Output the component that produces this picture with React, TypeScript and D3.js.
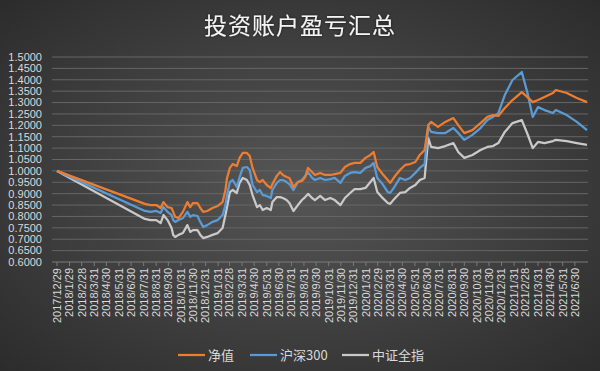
import React from "react";
import * as d3 from "d3";

// 净值 / 沪深300 / 中证全指
const dates = [
  "2017-12-29", "2018-08-03", "2018-08-17", "2018-08-31", "2018-09-11", "2018-09-18", "2018-09-28",
  "2018-10-08", "2018-10-12", "2018-10-17", "2018-10-25", "2018-11-05", "2018-11-16", "2018-11-23",
  "2018-11-30", "2018-12-11", "2018-12-18", "2018-12-25", "2019-01-04", "2019-01-17", "2019-01-30",
  "2019-02-11", "2019-02-18", "2019-02-22", "2019-03-01", "2019-03-08", "2019-03-18", "2019-03-25",
  "2019-04-02", "2019-04-12", "2019-04-19", "2019-04-26", "2019-05-07", "2019-05-14", "2019-05-21",
  "2019-05-31", "2019-06-10", "2019-06-14", "2019-06-25", "2019-07-03", "2019-07-10", "2019-07-19",
  "2019-07-26", "2019-08-05", "2019-08-16", "2019-08-26", "2019-09-03", "2019-09-10", "2019-09-20",
  "2019-09-27", "2019-10-10", "2019-10-22", "2019-11-04", "2019-11-15", "2019-11-29", "2019-12-10",
  "2019-12-23", "2020-01-03", "2020-01-17", "2020-01-30", "2020-02-11", "2020-02-19", "2020-02-28",
  "2020-03-10", "2020-03-25", "2020-03-31", "2020-04-10", "2020-04-24", "2020-05-07", "2020-05-19",
  "2020-06-01", "2020-06-12", "2020-06-24", "2020-07-03", "2020-07-10", "2020-07-27", "2020-08-14",
  "2020-09-03", "2020-09-15", "2020-09-30", "2020-10-20", "2020-11-09", "2020-11-26", "2020-12-10",
  "2020-12-23", "2021-01-08", "2021-01-27", "2021-02-19", "2021-03-05", "2021-03-18", "2021-03-31",
  "2021-04-16", "2021-05-07", "2021-05-14", "2021-06-10", "2021-07-05", "2021-07-30",
];

const nav = [
  1.000, 0.855, 0.850, 0.850, 0.837, 0.863, 0.841,
  0.837, 0.820, 0.798, 0.793, 0.820, 0.863, 0.841,
  0.859, 0.859, 0.837, 0.820, 0.824, 0.837, 0.846,
  0.863, 0.916, 0.969, 1.013, 1.030, 1.021, 1.057,
  1.079, 1.079, 1.065, 1.013, 0.960, 0.951, 0.960,
  0.938, 0.925, 0.942, 0.978, 0.995, 0.982, 0.973,
  0.969, 0.929, 0.951, 0.956, 0.973, 1.013, 0.995,
  0.982, 0.991, 0.982, 0.982, 0.986, 0.991, 1.017,
  1.030, 1.035, 1.035, 1.057, 1.070, 1.083, 1.017,
  0.991, 0.960, 0.947, 0.973, 1.004, 1.026, 1.030,
  1.039, 1.070, 1.092, 1.201, 1.215, 1.193, 1.215,
  1.232, 1.201, 1.166, 1.179, 1.210, 1.237, 1.245,
  1.241, 1.276, 1.311, 1.346, 1.324, 1.302, 1.311,
  1.324, 1.342, 1.355, 1.342, 1.320, 1.302,
];

const hs300 = [
  1.000, 0.824, 0.820, 0.824, 0.815, 0.841, 0.820,
  0.806, 0.784, 0.776, 0.784, 0.793, 0.820, 0.798,
  0.806, 0.802, 0.776, 0.754, 0.762, 0.776, 0.784,
  0.806, 0.850, 0.894, 0.951, 0.960, 0.929, 0.973,
  1.013, 1.017, 1.004, 0.938, 0.907, 0.916, 0.894,
  0.890, 0.881, 0.916, 0.947, 0.960, 0.960, 0.951,
  0.942, 0.916, 0.951, 0.960, 0.978, 0.995, 0.969,
  0.960, 0.969, 0.960, 0.964, 0.969, 0.947, 0.978,
  0.991, 0.995, 0.991, 1.013, 1.021, 1.035, 0.969,
  0.947, 0.907, 0.903, 0.929, 0.969, 0.960, 0.969,
  0.991, 1.013, 1.030, 1.193, 1.171, 1.166, 1.166,
  1.188, 1.166, 1.136, 1.158, 1.188, 1.223, 1.237,
  1.254, 1.333, 1.399, 1.434, 1.342, 1.237, 1.280,
  1.267, 1.254, 1.267, 1.245, 1.215, 1.179,
];

const zzqz = [
  1.000, 0.789, 0.784, 0.784, 0.771, 0.806, 0.784,
  0.749, 0.719, 0.710, 0.719, 0.727, 0.762, 0.732,
  0.740, 0.740, 0.719, 0.705, 0.710, 0.719, 0.727,
  0.749, 0.806, 0.841, 0.907, 0.916, 0.903, 0.947,
  0.969, 0.960, 0.938, 0.894, 0.841, 0.850, 0.828,
  0.837, 0.828, 0.863, 0.885, 0.885, 0.881, 0.872,
  0.859, 0.824, 0.850, 0.872, 0.885, 0.899, 0.881,
  0.872, 0.890, 0.872, 0.881, 0.872, 0.850, 0.881,
  0.903, 0.920, 0.920, 0.925, 0.951, 0.969, 0.907,
  0.885, 0.859, 0.855, 0.877, 0.903, 0.907, 0.925,
  0.938, 0.960, 0.969, 1.144, 1.105, 1.100, 1.109,
  1.122, 1.083, 1.057, 1.070, 1.092, 1.105, 1.109,
  1.122, 1.171, 1.210, 1.223, 1.162, 1.100, 1.127,
  1.122, 1.131, 1.136, 1.131, 1.122, 1.114,
];

const tickLabels = [
  "2017/12/29", "2018/1/29", "2018/2/28", "2018/3/31", "2018/4/30", "2018/5/31", "2018/6/30",
  "2018/7/31", "2018/8/31", "2018/9/30", "2018/10/31", "2018/11/30", "2018/12/31", "2019/1/31",
  "2019/2/28", "2019/3/31", "2019/4/30", "2019/5/31", "2019/6/30", "2019/7/31", "2019/8/31",
  "2019/9/30", "2019/10/31", "2019/11/30", "2019/12/31", "2020/1/31", "2020/2/29", "2020/3/31",
  "2020/4/30", "2020/5/31", "2020/6/30", "2020/7/31", "2020/8/31", "2020/9/30", "2020/10/31",
  "2020/11/30", "2020/12/31", "2021/1/31", "2021/2/28", "2021/3/31", "2021/4/30", "2021/5/31",
  "2021/6/30",
];

const yTicks = d3.range(0.6, 1.5001, 0.05);

const series = [
  { name: "净值", color: "#ED7D31", values: nav },
  { name: "沪深300", color: "#5B9BD5", values: hs300 },
  { name: "中证全指", color: "#C9C9C9", values: zzqz },
];

const W = 600, H = 371;
const margin = { top: 57, right: 13, bottom: 109, left: 57 };

export default function App() {
  const parseISO = d3.timeParse("%Y-%m-%d");
  const parseTick = d3.timeParse("%Y/%m/%d");
  const xDates = dates.map((d) => parseISO(d) as Date);

  const x = d3.scaleTime()
    .domain(d3.extent(xDates) as [Date, Date])
    .range([margin.left, W - margin.right]);
  const y = d3.scaleLinear()
    .domain([0.6, 1.5])
    .range([H - margin.bottom, margin.top]);

  const line = d3.line<number>()
    .x((_, i) => x(xDates[i]))
    .y((d) => y(d));

  const labelFont = "'Liberation Sans', 'Noto Sans', sans-serif";
  const cjkFont = "'Noto Sans CJK SC', sans-serif";
  const y0 = y(0.6);

  // legend layout
  const legend = [
    { ...series[0], lx: 178 },
    { ...series[1], lx: 250 },
    { ...series[2], lx: 342 },
  ];

  return (
    <svg width={W} height={H} style={{ position: "absolute", left: 0, top: 0 }}>
      <defs>
        <radialGradient id="bg" cx="50%" cy="50%" r="70%">
          <stop offset="0%" stopColor="#565656" />
          <stop offset="100%" stopColor="#2c2c2c" />
        </radialGradient>
        <filter id="glow" x="-10%" y="-30%" width="120%" height="160%">
          <feDropShadow dx="0" dy="0" stdDeviation="1.5" floodColor="#000" floodOpacity="0.6" />
        </filter>
      </defs>
      <rect width={W} height={H} fill="url(#bg)" />

      <text x={300} y={34} textAnchor="middle" fill="#f4f4f4" fontSize={23}
        fontFamily={cjkFont} filter="url(#glow)" letterSpacing={1}>
        投资账户盈亏汇总
      </text>

      {/* grid + y labels */}
      {yTicks.map((t, i) => (
        <g key={i}>
          {i > 0 && (
            <line x1={52} x2={588} y1={y(t)} y2={y(t)} stroke="#666" strokeWidth={1} />
          )}
          <text x={42} y={y(t)} dy="0.35em" textAnchor="end" fill="#d9d9d9"
            fontSize={11} fontFamily={labelFont}>
            {t.toFixed(4)}
          </text>
        </g>
      ))}

      {/* x axis */}
      <line x1={52} x2={588} y1={y0} y2={y0} stroke="#7a7a7a" strokeWidth={1} />
      {tickLabels.map((t) => {
        const tx = x(parseTick(t) as Date);
        return (
          <g key={t}>
            <line x1={tx} x2={tx} y1={y0} y2={y0 + 4} stroke="#7a7a7a" />
            <text transform={`translate(${tx},${y0 + 6}) rotate(-90)`} dy="0.35em"
              textAnchor="end" fill="#d9d9d9" fontSize={11} fontFamily={labelFont}>
              {t}
            </text>
          </g>
        );
      })}

      {/* series */}
      {[series[2], series[1], series[0]].map((s) => (
        <path key={s.name} d={line(s.values) || ""} fill="none" stroke={s.color}
          strokeWidth={2.25} strokeLinejoin="round" />
      ))}

      {/* legend */}
      {legend.map((s) => (
        <g key={s.name}>
          <line x1={s.lx} x2={s.lx + 27} y1={355} y2={355} stroke={s.color} strokeWidth={2.25} />
          <text x={s.lx + 30} y={355} dy="0.35em" fill="#d9d9d9" fontSize={13} fontFamily={cjkFont}>
            {s.name}
          </text>
        </g>
      ))}
    </svg>
  );
}
